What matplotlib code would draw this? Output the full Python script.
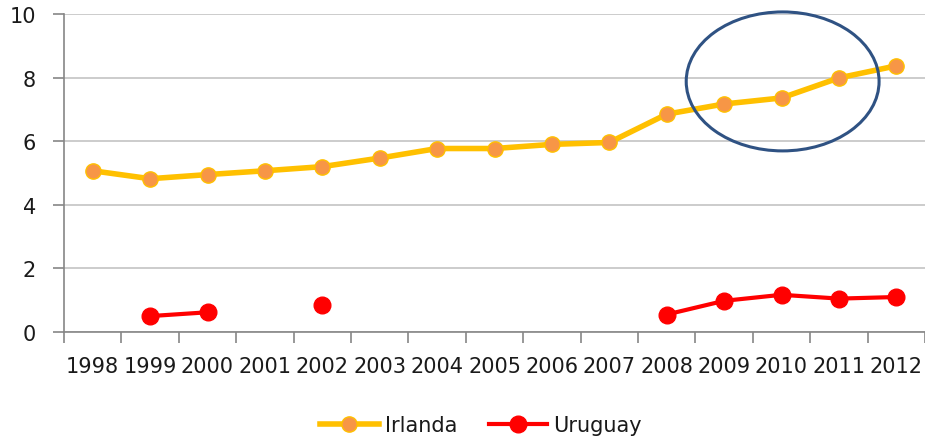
import numpy as np
import matplotlib.pyplot as plt
from matplotlib.patches import Ellipse

years = ['1998', '1999', '2000', '2001', '2002', '2003', '2004', '2005',
         '2006', '2007', '2008', '2009', '2010', '2011', '2012']
irlanda = [5.07, 4.82, 4.95, 5.07, 5.2, 5.47, 5.77, 5.77,
           5.9, 5.96, 6.85, 7.17, 7.36, 7.99, 8.37]
uruguay = [np.nan, 0.5, 0.62, np.nan, 0.86, np.nan, np.nan, np.nan,
           np.nan, np.nan, 0.55, 0.98, 1.17, 1.05, 1.1]

txt = '#1a1a1a'
fig = plt.figure(figsize=(9.25, 4.39), dpi=100)
ax = fig.add_axes([64/925, 106/439, 861/925, 318/439])

x = np.arange(len(years))
ax.plot(x, irlanda, color='#FFC000', lw=4, marker='o', ms=11,
        mfc='#F79646', mec='#FFC000', mew=1, label='Irlanda', zorder=3)
ax.plot(x, uruguay, color='#FF0000', lw=3, marker='o', ms=12,
        mfc='#FF0000', mec='#FF0000', label='Uruguay', zorder=3)

# highlighted area
ax.add_patch(Ellipse((12.02, 7.88), 3.36, 4.37, fill=False,
                     ec='#2F5283', lw=2.2, zorder=4, clip_on=False))

ax.set_xlim(-0.5, len(years) - 0.5)
ax.set_ylim(0, 10)
ax.set_yticks([0, 2, 4, 6, 8, 10])
ax.set_xticks(np.arange(-0.5, len(years)), minor=False)
ax.set_xticklabels([])
ax.set_xticks(x, minor=True)
ax.set_xticklabels(years, minor=True)
ax.tick_params(axis='x', which='minor', length=0, pad=17, labelsize=15, labelcolor=txt)
ax.tick_params(axis='x', which='major', length=8, width=1.2, color='#868686')
ax.tick_params(axis='y', length=8, width=1.2, color='#868686', labelsize=15,
               labelcolor=txt, pad=12)
ax.grid(axis='y', color='#C8C8C8', lw=1.3)
ax.set_axisbelow(True)
for s in ['top', 'right']:
    ax.spines[s].set_visible(False)
for s in ['left', 'bottom']:
    ax.spines[s].set_color('#868686')
    ax.spines[s].set_linewidth(1.2)

leg = fig.legend(loc='center', bbox_to_anchor=(0.52, 0.03), ncol=2, frameon=False,
                 fontsize=15, handlelength=2.8, columnspacing=1.5, handletextpad=0.3)
for t in leg.get_texts():
    t.set_color(txt)

fig.savefig('out.png', dpi=100)
